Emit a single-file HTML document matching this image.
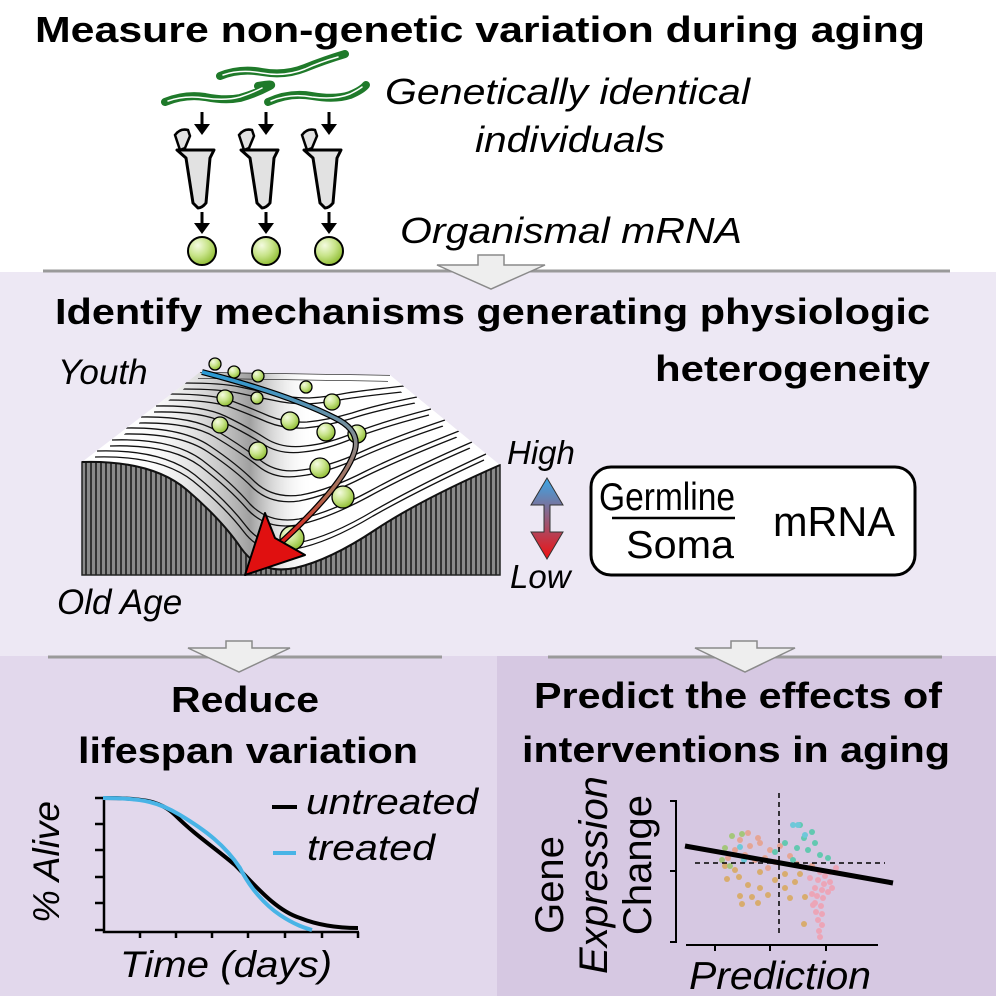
<!DOCTYPE html>
<html><head><meta charset="utf-8"><style>
html,body{margin:0;padding:0;background:#fff}
svg{display:block}
text{font-family:"Liberation Sans",sans-serif}
</style></head><body>
<svg width="996" height="996" viewBox="0 0 996 996" xmlns="http://www.w3.org/2000/svg">
<defs>
<radialGradient id="ball" cx="0.35" cy="0.3" r="0.75"><stop offset="0" stop-color="#f4fbe0"/><stop offset="0.5" stop-color="#c8e48a"/><stop offset="1" stop-color="#8dbb2e"/></radialGradient>
<linearGradient id="traj" x1="0" y1="0" x2="0" y2="1"><stop offset="0" stop-color="#2a9ad6"/><stop offset="0.4" stop-color="#8a8a8a"/><stop offset="0.7" stop-color="#b06a50"/><stop offset="1" stop-color="#e01010"/></linearGradient>
<linearGradient id="ud" x1="0" y1="0" x2="0" y2="1"><stop offset="0" stop-color="#3aa8e8"/><stop offset="1" stop-color="#f01010"/></linearGradient>
<pattern id="stripes" width="5" height="10" patternUnits="userSpaceOnUse"><rect width="5" height="10" fill="#8a8a8a"/><rect width="2" height="10" fill="#333"/></pattern>
<linearGradient id="shade" x1="0" y1="0" x2="1" y2="0"><stop offset="0.1" stop-color="#fff" stop-opacity="0"/><stop offset="0.4" stop-color="#888" stop-opacity="0.8"/><stop offset="0.55" stop-color="#fff" stop-opacity="0"/></linearGradient>
<clipPath id="surf"><path d="M200 372 L390 375 L500 465 Q420 500 375 530 Q330 560 295 568 Q260 575 241 548 Q222 520 187 490 Q152 460 82 462 Z"/></clipPath>
</defs>
<rect x="0" y="0" width="996" height="272" fill="#fff"/>
<rect x="0" y="272" width="996" height="384" fill="#ede8f4"/>
<rect x="0" y="656" width="497" height="340" fill="#e2d8ec"/>
<rect x="497" y="656" width="499" height="340" fill="#d6c8e2"/>
<line x1="43" y1="271" x2="950" y2="271" stroke="#9a9a9a" stroke-width="3"/>
<line x1="48" y1="657" x2="442" y2="657" stroke="#9a9a9a" stroke-width="3"/>
<line x1="548" y1="657" x2="942" y2="657" stroke="#9a9a9a" stroke-width="3"/>
<path d="M478 255 H504 V265 H545 L491 289 L437 265 H478 Z" fill="#eeeeee" stroke="#8a8a8a" stroke-width="1.5"/>
<path d="M226 641 H252 V648 H290 L239 672 L188 648 H226 Z" fill="#eeeeee" stroke="#8a8a8a" stroke-width="1.5"/>
<path d="M731 641 H757 V648 H795 L745 672 L695 648 H731 Z" fill="#eeeeee" stroke="#8a8a8a" stroke-width="1.5"/>
<text x="35" y="42" font-size="36" font-weight="bold" textLength="890" lengthAdjust="spacingAndGlyphs">Measure non-genetic variation during aging</text>
<text x="55" y="324" font-size="36" font-weight="bold" textLength="875" lengthAdjust="spacingAndGlyphs">Identify mechanisms generating physiologic</text>
<text x="930" y="381" font-size="36" font-weight="bold" text-anchor="end" textLength="275" lengthAdjust="spacingAndGlyphs">heterogeneity</text>
<text x="385" y="104" font-size="36" font-style="italic" textLength="365" lengthAdjust="spacingAndGlyphs">Genetically identical</text>
<text x="475" y="152" font-size="36" font-style="italic" textLength="190" lengthAdjust="spacingAndGlyphs">individuals</text>
<text x="400" y="243" font-size="36" font-style="italic" textLength="342" lengthAdjust="spacingAndGlyphs">Organismal mRNA</text>
<g fill="none" stroke-linecap="round">
<path d="M165 102 Q185 94 205 97 Q225 101 240 98 Q255 94 270 86 Q275 83 258 86" stroke="#1f7a2a" stroke-width="8"/>
<path d="M168 101 Q185 95 205 98 Q225 101 240 97 Q252 93 262 88" stroke="#fff" stroke-width="1.5"/>
<path d="M220 76 Q240 68 262 72 Q285 76 305 68 Q325 60 345 54" stroke="#1f7a2a" stroke-width="8"/>
<path d="M223 75 Q240 69 262 73 Q285 77 305 69 Q320 62 338 57" stroke="#fff" stroke-width="1.5"/>
<path d="M268 102 Q290 92 312 96 Q335 100 350 95 Q362 90 366 85" stroke="#1f7a2a" stroke-width="8"/>
<path d="M271 101 Q290 93 312 97 Q335 100 350 94 Q358 90 362 87" stroke="#fff" stroke-width="1.5"/>
</g>
<g>
<g>
<path d="M202 112 V128" stroke="#000" stroke-width="3"/><path d="M194 124 L202 135 L210 124 Z"/>
<path d="M180 150 L175 135 Q180 128 188 130 L190 136 L185 148 Z" fill="#e2e2e2" stroke="#000" stroke-width="2.5"/>
<path d="M177 150 H214 L210 158 L206 203 Q202 208 198 208 L193 203 L186 158 Z" fill="#e2e2e2" stroke="#000" stroke-width="3" stroke-linejoin="round"/>
<path d="M202 212 V228" stroke="#000" stroke-width="3"/><path d="M194 223 L202 234 L210 223 Z"/>
<circle cx="202" cy="251" r="14" fill="url(#ball)" stroke="#000" stroke-width="2"/>
</g>
<g transform="translate(64,0)">
<path d="M202 112 V128" stroke="#000" stroke-width="3"/><path d="M194 124 L202 135 L210 124 Z"/>
<path d="M180 150 L175 135 Q180 128 188 130 L190 136 L185 148 Z" fill="#e2e2e2" stroke="#000" stroke-width="2.5"/>
<path d="M177 150 H214 L210 158 L206 203 Q202 208 198 208 L193 203 L186 158 Z" fill="#e2e2e2" stroke="#000" stroke-width="3" stroke-linejoin="round"/>
<path d="M202 212 V228" stroke="#000" stroke-width="3"/><path d="M194 223 L202 234 L210 223 Z"/>
<circle cx="202" cy="251" r="14" fill="url(#ball)" stroke="#000" stroke-width="2"/>
</g>
<g transform="translate(127,0)">
<path d="M202 112 V128" stroke="#000" stroke-width="3"/><path d="M194 124 L202 135 L210 124 Z"/>
<path d="M180 150 L175 135 Q180 128 188 130 L190 136 L185 148 Z" fill="#e2e2e2" stroke="#000" stroke-width="2.5"/>
<path d="M177 150 H214 L210 158 L206 203 Q202 208 198 208 L193 203 L186 158 Z" fill="#e2e2e2" stroke="#000" stroke-width="3" stroke-linejoin="round"/>
<path d="M202 212 V228" stroke="#000" stroke-width="3"/><path d="M194 223 L202 234 L210 223 Z"/>
<circle cx="202" cy="251" r="14" fill="url(#ball)" stroke="#000" stroke-width="2"/>
</g>
</g>
<text x="58" y="384" font-size="35" font-style="italic">Youth</text>
<text x="57" y="614" font-size="35" font-style="italic">Old Age</text>
<path d="M82 462 Q152 460 187 490 Q222 520 241 548 Q260 575 295 568 Q330 560 375 530 Q420 500 500 465 V575 H82 Z" fill="url(#stripes)" stroke="#222" stroke-width="1.5"/>
<path d="M200 372 L390 375 L500 465 Q420 500 375 530 Q330 560 295 568 Q260 575 241 548 Q222 520 187 490 Q152 460 82 462 Z" fill="#fff"/>
<rect x="82" y="372" width="420" height="210" fill="url(#shade)" clip-path="url(#surf)"/>
<g id="ln" fill="none" stroke="#111" stroke-width="1.3" clip-path="url(#surf)">
<path d="M200 372 L390 375"/>
<path d="M185 383 Q222 383 240 387 Q258 391 274 394 Q291 398 309 398 Q327 397 347 393 Q367 390 404 386"/>
<path d="M170 394 Q212 394 232 401 Q253 409 269 416 Q286 423 307 422 Q328 420 352 413 Q376 405 417 397"/>
<path d="M156 406 Q202 405 225 416 Q248 427 265 438 Q282 449 305 446 Q328 444 356 432 Q385 421 431 409"/>
<path d="M141 417 Q192 416 217 431 Q242 446 260 460 Q277 474 302 470 Q328 467 361 452 Q394 437 445 420"/>
<path d="M126 428 Q182 427 210 446 Q237 464 255 482 Q273 499 301 495 Q329 490 366 471 Q403 453 459 431"/>
<path d="M112 440 Q172 438 202 460 Q232 483 250 504 Q269 524 299 519 Q329 513 370 491 Q412 468 472 442"/>
<path d="M97 451 Q162 449 195 475 Q227 501 246 526 Q264 550 297 543 Q330 537 375 510 Q421 484 486 454"/>
</g>
<use href="#ln" transform="translate(-2,6)"/>
<path d="M82 462 Q152 460 187 490 Q222 520 241 548 Q260 575 295 568 Q330 560 375 530 Q420 500 500 465" fill="none" stroke="#111" stroke-width="2"/>
<g fill="url(#ball)" stroke="#000" stroke-width="1.3">
<circle cx="215" cy="364" r="6"/><circle cx="234" cy="372" r="6"/><circle cx="258" cy="376" r="6"/>
<circle cx="306" cy="387" r="6"/><circle cx="225" cy="398" r="8"/><circle cx="257" cy="398" r="6"/>
<circle cx="332" cy="402" r="8"/><circle cx="290" cy="421" r="9"/><circle cx="326" cy="432" r="9"/>
<circle cx="357" cy="434" r="9"/><circle cx="220" cy="425" r="8"/><circle cx="258" cy="451" r="9"/>
<circle cx="320" cy="468" r="10"/><circle cx="343" cy="497" r="11"/><circle cx="292" cy="538" r="12"/>
</g>
<path d="M202 372 Q290 395 335 418 Q360 430 355 450 Q345 485 275 548" fill="none" stroke="#000" stroke-width="6"/>
<path d="M202 372 Q290 395 335 418 Q360 430 355 450 Q345 485 275 548" fill="none" stroke="url(#traj)" stroke-width="3.5"/>
<path d="M245 575 L265 513 L275 538 L305 555 Z" fill="#e01010" stroke="#000" stroke-width="2" stroke-linejoin="round"/>
<text x="507" y="464" font-size="33" font-style="italic">High</text>
<text x="510" y="588" font-size="33" font-style="italic">Low</text>
<path d="M547 478 L563 505 H550 V532 H563 L547 559 L531 532 H544 V505 H531 Z" fill="url(#ud)" stroke="#333" stroke-width="1"/>
<rect x="591" y="467" width="324" height="108" rx="20" fill="#fff" stroke="#000" stroke-width="3"/>
<text x="599" y="510" font-size="39" textLength="136" lengthAdjust="spacingAndGlyphs">Germline</text>
<line x1="612" y1="518" x2="735" y2="518" stroke="#000" stroke-width="2.5"/>
<text x="626" y="558" font-size="39" textLength="108" lengthAdjust="spacingAndGlyphs">Soma</text>
<text x="773" y="536" font-size="42" textLength="122" lengthAdjust="spacingAndGlyphs">mRNA</text>
<text x="245" y="712" font-size="36" font-weight="bold" text-anchor="middle" textLength="148" lengthAdjust="spacingAndGlyphs">Reduce</text>
<text x="248" y="763" font-size="36" font-weight="bold" text-anchor="middle" textLength="340" lengthAdjust="spacingAndGlyphs">lifespan variation</text>
<g stroke="#000" stroke-width="2.5" fill="none">
<path d="M104 797 V932 H359"/>
<path d="M95 798 H104 M95 824 H104 M95 850 H104 M95 877 H104 M95 903 H104 M95 930 H104"/>
<path d="M140 932 V938 M176 932 V938 M212 932 V938 M248 932 V938 M285 932 V938 M322 932 V938 M358 932 V938"/>
</g>
<path d="M103 798 C140 798 160 800 175 815 C195 835 215 848 235 865 C255 885 275 910 300 918 C320 926 340 928 358 928" fill="none" stroke="#000" stroke-width="4"/>
<path d="M103 798 C145 798 160 803 180 815 C205 830 225 845 240 868 C250 888 265 905 280 915 C295 925 305 928 312 930" fill="none" stroke="#48b4e6" stroke-width="4"/>
<line x1="272" y1="807" x2="297" y2="807" stroke="#000" stroke-width="4"/>
<text x="306" y="814" font-size="36" font-style="italic" textLength="172" lengthAdjust="spacingAndGlyphs">untreated</text>
<line x1="273" y1="853" x2="296" y2="853" stroke="#48b4e6" stroke-width="4"/>
<text x="307" y="860" font-size="36" font-style="italic" textLength="128" lengthAdjust="spacingAndGlyphs">treated</text>
<text transform="translate(59,862) rotate(-90)" font-size="37" font-style="italic" text-anchor="middle">% Alive</text>
<text x="120" y="977" font-size="37" font-style="italic" textLength="212" lengthAdjust="spacingAndGlyphs">Time (days)</text>
<text x="738" y="708" font-size="36" font-weight="bold" text-anchor="middle" textLength="408" lengthAdjust="spacingAndGlyphs">Predict the effects of</text>
<text x="736" y="762" font-size="36" font-weight="bold" text-anchor="middle" textLength="428" lengthAdjust="spacingAndGlyphs">interventions in aging</text>
<text transform="translate(563,885) rotate(-90)" font-size="40" text-anchor="middle">Gene</text>
<text transform="translate(607,875) rotate(-90)" font-size="40" font-style="italic" text-anchor="middle">Expression</text>
<text transform="translate(651,865) rotate(-90)" font-size="40" text-anchor="middle">Change</text>
<text x="689" y="989" font-size="39" font-style="italic" textLength="182" lengthAdjust="spacingAndGlyphs">Prediction</text>
<g stroke="#000" stroke-width="2" fill="none">
<path d="M670 801 H676 V942 H670 M670 871 H676"/>
<path d="M686 945 H878 M715 945 V951 M770 945 V951 M826 945 V951"/>
</g>
<g opacity="0.85">
<g fill="#d9a85a">
<circle cx="727" cy="879" r="3"/><circle cx="739" cy="877" r="3"/><circle cx="748" cy="885" r="3"/><circle cx="760" cy="888" r="3"/><circle cx="740" cy="896" r="3"/><circle cx="752" cy="897" r="3"/><circle cx="768" cy="895" r="3"/><circle cx="785" cy="888" r="3"/><circle cx="790" cy="898" r="3"/><circle cx="805" cy="897" r="3"/><circle cx="742" cy="904" r="3"/><circle cx="758" cy="903" r="3"/><circle cx="735" cy="870" r="3"/><circle cx="760" cy="872" r="3"/><circle cx="775" cy="880" r="3"/><circle cx="800" cy="874" r="3"/><circle cx="804" cy="924" r="3"/><circle cx="725" cy="866" r="3"/><circle cx="785" cy="874" r="3"/><circle cx="795" cy="882" r="3"/>
</g>
<g fill="#e8a088">
<circle cx="740" cy="840" r="3"/><circle cx="750" cy="846" r="3"/><circle cx="760" cy="843" r="3"/><circle cx="770" cy="850" r="3"/><circle cx="745" cy="855" r="3"/><circle cx="755" cy="860" r="3"/><circle cx="765" cy="858" r="3"/><circle cx="775" cy="862" r="3"/><circle cx="735" cy="850" r="3"/><circle cx="780" cy="846" r="3"/><circle cx="790" cy="856" r="3"/><circle cx="748" cy="833" r="3"/><circle cx="758" cy="838" r="3"/><circle cx="768" cy="868" r="3"/><circle cx="728" cy="858" r="3"/><circle cx="797" cy="864" r="3"/><circle cx="812" cy="866" r="3"/>
</g>
<g fill="#9cc66a">
<circle cx="725" cy="848" r="3"/><circle cx="732" cy="836" r="3"/><circle cx="722" cy="860" r="3"/><circle cx="730" cy="866" r="3"/><circle cx="742" cy="834" r="3"/>
</g>
<g fill="#4fc8a8">
<circle cx="785" cy="843" r="3"/><circle cx="797" cy="848" r="3"/><circle cx="808" cy="850" r="3"/><circle cx="815" cy="843" r="3"/><circle cx="820" cy="855" r="3"/><circle cx="804" cy="838" r="3"/><circle cx="793" cy="860" r="3"/><circle cx="828" cy="858" r="3"/><circle cx="800" cy="825" r="3"/><circle cx="812" cy="832" r="3"/><circle cx="775" cy="852" r="3"/>
</g>
<g fill="#5cc8d8"><circle cx="793" cy="825" r="3"/><circle cx="798" cy="825" r="3"/><circle cx="805" cy="835" r="3"/><circle cx="740" cy="847" r="3"/><circle cx="744" cy="860" r="3"/></g>
<g fill="#f0a0b0">
<circle cx="820" cy="872" r="3"/><circle cx="825" cy="876" r="3"/><circle cx="830" cy="872" r="3"/><circle cx="818" cy="880" r="3"/><circle cx="824" cy="884" r="3"/><circle cx="830" cy="882" r="3"/><circle cx="815" cy="888" r="3"/><circle cx="822" cy="890" r="3"/><circle cx="828" cy="892" r="3"/><circle cx="817" cy="896" r="3"/><circle cx="823" cy="898" r="3"/><circle cx="815" cy="903" r="3"/><circle cx="821" cy="906" r="3"/><circle cx="816" cy="912" r="3"/><circle cx="822" cy="914" r="3"/><circle cx="818" cy="920" r="3"/><circle cx="822" cy="925" r="3"/><circle cx="819" cy="931" r="3"/><circle cx="836" cy="868" r="3"/><circle cx="810" cy="878" r="3"/><circle cx="812" cy="894" r="3"/><circle cx="832" cy="888" r="3"/><circle cx="820" cy="937" r="3"/><circle cx="813" cy="905" r="3"/>
</g>
</g>
<path d="M779 793 V935 M695 863 H885" stroke="#000" stroke-width="1.5" stroke-dasharray="5,4" fill="none"/>
<line x1="685" y1="846" x2="893" y2="883" stroke="#000" stroke-width="5"/>
</svg>
</body></html>
